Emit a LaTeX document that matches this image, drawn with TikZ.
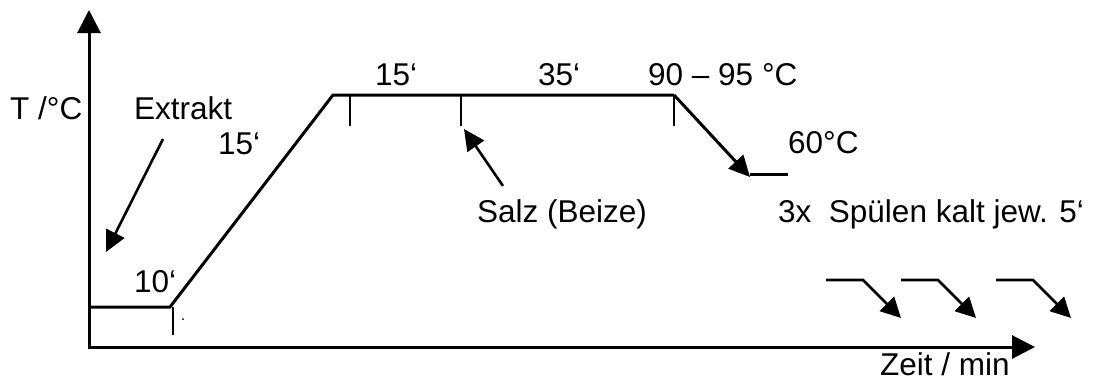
\documentclass[tikz,border=0pt]{standalone}
\usepackage{fontspec}
\setmainfont{Liberation Sans}
\usetikzlibrary{arrows.meta}
\begin{document}
\begin{tikzpicture}[x=1pt,y=-1pt,
  lbl/.style={anchor=base west,inner sep=0pt,font=\fontsize{31.5}{36}\selectfont},
  axis/.style={line width=3pt,-{Triangle[length=23pt,width=23pt]}},
  profile/.style={line width=3pt,line join=miter},
  tick/.style={line width=2pt},
  pointer/.style={line width=2.6pt,-{Triangle[length=21pt,width=20pt]}},
  rinse/.style={line width=2.6pt,line join=miter,-{Triangle[length=20pt,width=20pt]}}]
\useasboundingbox (0,0) rectangle (1099,381);
% axes
\coordinate (O) at (89,347);
\coordinate (Ytop) at (89,10);
\coordinate (Xend) at (1035,347);
\draw[axis] (89,348.5) -- (Ytop);
\draw[axis] (87.5,347) -- (Xend);
% profile
\coordinate (p0) at (91,307);
\coordinate (p1) at (170,307);
\coordinate (p2) at (333,95);
\coordinate (p3) at (674,95);
\coordinate (p4) at (750,177);
\draw[profile] (p0) -- (p1) -- (p2) -- (p3);
\draw[pointer,line width=3pt] (p3) -- (p4);
\coordinate (c60a) at (750,174);
\coordinate (c60b) at (788,174);
\draw[profile] (c60a) -- (c60b);
% ticks
\coordinate (t1a) at (173,307); \coordinate (t1b) at (173,335);
\coordinate (t2a) at (350,95); \coordinate (t2b) at (350,126);
\coordinate (t3a) at (461,95); \coordinate (t3b) at (461,126);
\coordinate (t4a) at (674,95); \coordinate (t4b) at (674,126);
\draw[tick] (t1a) -- (t1b);
\draw[tick] (t2a) -- (t2b);
\draw[tick] (t3a) -- (t3b);
\draw[tick] (t4a) -- (t4b);
\fill (183,319) circle (1pt);
% labels
\node[lbl] (ylab) at (10,119) {T /°C};
\node[lbl] (extrakt) at (134,119) {Extrakt};
\node[lbl] (r15) at (218,154) {15‘};
\node[lbl] (t10) at (134,292) {10‘};
\node[lbl] (h15) at (375,85) {15‘};
\node[lbl] (h35) at (538,85) {35‘};
\node[lbl] (temp) at (648,85) {90 – 95 °C};
\node[lbl] (t60) at (788,153) {60°C};
\node[lbl] (salz) at (477,222) {Salz (Beize)};
\node[lbl] (spuel) at (778,222) {3x\ \ Spülen kalt jew. 5‘};
\node[lbl] (zeit) at (880,375) {Zeit / min};
% pointer arrows
\coordinate (ex0) at (163,139);
\coordinate (ex1) at (106,252);
\draw[pointer] (ex0) -- (ex1);
\coordinate (sz0) at (503,186);
\coordinate (sz1) at (464,129);
\draw[pointer] (sz0) -- (sz1);
% rinse arrows
\foreach \dx/\n in {0/a,75/b,170/c}{
  \coordinate (r\n0) at (826+\dx,280);
  \coordinate (r\n1) at (863+\dx,280);
  \coordinate (r\n2) at (901+\dx,318);
  \draw[rinse] (r\n0) -- (r\n1) -- (r\n2);
}
\end{tikzpicture}
\end{document}
